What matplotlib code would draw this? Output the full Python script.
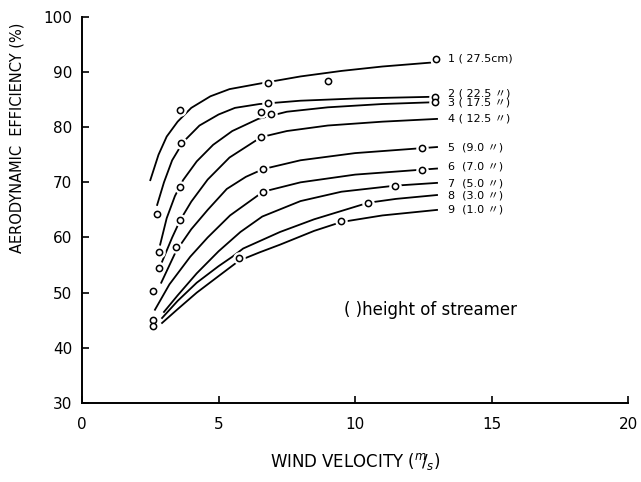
import numpy as np
import matplotlib
matplotlib.use("Agg")
import matplotlib.pyplot as plt

plt.rcParams['font.family'] = ['DejaVu Sans', 'Noto Sans CJK JP']

# curves: wind velocity (m/s), aerodynamic efficiency (%)
c1_x = [2.5, 2.8, 3.1, 3.5, 4.0, 4.7, 5.4, 6.5, 8.0, 9.5, 11.0, 12.75]
c1_y = [70.4, 75.0, 78.3, 81.0, 83.5, 85.6, 86.9, 87.9, 89.2, 90.2, 91.0, 91.7]
c2_x = [2.75, 3.0, 3.3, 3.7, 4.3, 5.0, 5.6, 6.5, 8.0, 10.0, 12.75]
c2_y = [65.9, 70.0, 74.0, 77.3, 80.3, 82.3, 83.5, 84.2, 84.8, 85.2, 85.5]
c3_x = [2.86, 3.1, 3.4, 3.7, 4.2, 4.8, 5.5, 6.45, 7.5, 9.0, 11.0, 12.75]
c3_y = [58.7, 63.5, 67.5, 70.4, 73.8, 76.8, 79.3, 81.5, 82.8, 83.6, 84.2, 84.5]
c4_x = [2.93, 3.3, 3.6, 4.0, 4.6, 5.4, 6.56, 7.5, 9.0, 11.0, 13.0]
c4_y = [55.6, 60.0, 63.2, 66.5, 70.5, 74.5, 78.2, 79.3, 80.3, 81.0, 81.5]
c5_x = [2.9, 3.44, 4.0, 4.6, 5.3, 6.0, 6.63, 8.0, 10.0, 12.45, 13.0]
c5_y = [51.8, 57.5, 61.5, 65.0, 68.8, 71.0, 72.4, 74.0, 75.3, 76.2, 76.4]
c6_x = [2.67, 3.2, 3.96, 4.6, 5.42, 6.63, 8.0, 10.0, 12.45, 13.0]
c6_y = [46.9, 51.5, 56.5, 60.0, 64.0, 68.3, 70.0, 71.4, 72.3, 72.5]
c7_x = [3.0, 3.5, 4.2, 5.0, 5.8, 6.6, 8.0, 9.5, 11.47, 13.0]
c7_y = [46.5, 49.5, 53.5, 57.5, 61.0, 63.8, 66.6, 68.3, 69.4, 69.9]
c8_x = [2.93, 3.5, 4.2, 5.0, 5.5, 5.9, 7.25, 8.5, 10.48, 11.5, 13.0]
c8_y = [45.4, 48.5, 51.8, 54.8, 56.5, 58.0, 61.0, 63.3, 66.3, 67.0, 67.7]
c9_x = [2.93, 3.5, 4.2, 5.0, 5.75, 6.5, 7.25, 8.5, 9.49, 11.0, 13.0]
c9_y = [44.5, 47.0, 50.0, 53.0, 55.8, 57.3, 58.7, 61.2, 62.8, 64.0, 65.0]

# measured points (circles)
pts_x = [3.59, 3.63, 3.59, 3.59, 3.44, 2.74, 2.8, 2.83, 2.6, 2.6, 2.6,
         5.75, 6.81, 9.01, 6.81, 6.56, 6.92, 6.56, 6.63, 6.63,
         12.45, 12.45, 11.47, 10.48, 9.49, 12.97, 12.93, 12.93]
pts_y = [83.1, 77.2, 69.2, 63.2, 58.3, 64.3, 57.4, 54.5, 50.3, 45.1, 43.9,
         56.3, 88.0, 88.4, 84.4, 82.8, 82.4, 78.2, 72.4, 68.3,
         76.2, 72.3, 69.4, 66.3, 63.0, 92.3, 85.5, 84.5]

labels = ['1 ( 27.5cm)', '2 ( 22.5 〃)', '3 ( 17.5 〃)', '4 ( 12.5 〃)',
          '5  (9.0 〃)', '6  (7.0 〃)', '7  (5.0 〃)', '8  (3.0 〃)', '9  (1.0 〃)']
label_y = [92.4, 86.1, 84.4, 81.5, 76.4, 72.9, 69.8, 67.6, 65.0]

fig = plt.figure(figsize=(6.41, 4.82), dpi=100)
ax = fig.add_axes([0.128, 0.164, 0.852, 0.801])

curves = [(c1_x, c1_y), (c2_x, c2_y), (c3_x, c3_y), (c4_x, c4_y), (c5_x, c5_y),
          (c6_x, c6_y), (c7_x, c7_y), (c8_x, c8_y), (c9_x, c9_y)]
for cx, cy in curves:
    ax.plot(cx, cy, color='black', lw=1.3, zorder=2)

# white halo leaves a small gap in the line round each circle
ax.plot(pts_x, pts_y, 'o', ms=8, color='white', zorder=3)
ax.plot(pts_x, pts_y, 'o', ms=4.5, mfc='white', mec='black', mew=1.1, zorder=4)

for lab, ly in zip(labels, label_y):
    ax.text(13.4, ly, lab, fontsize=8, va='center', ha='left')

ax.text(9.6, 46.9, '( )height of streamer', fontsize=12, va='center', ha='left')

ax.set_xlim(0, 20)
ax.set_ylim(30, 100)
ax.set_xticks([0, 5, 10, 15, 20])
ax.set_yticks([30, 40, 50, 60, 70, 80, 90, 100])
ax.tick_params(direction='in', length=5, width=1.2, labelsize=11, pad=7)
ax.tick_params(axis='x', pad=10)
for s in ['top', 'right']:
    ax.spines[s].set_visible(False)
for s in ['left', 'bottom']:
    ax.spines[s].set_linewidth(1.4)

ax.set_xlabel(r'WIND VELOCITY ($^{m}\!\!/_{s}$)', fontsize=12, labelpad=14)
fig.text(0.027, 0.714, 'AERODYNAMIC  EFFICIENCY (%)', rotation=90, fontsize=10.5,
         ha='center', va='center')

fig.savefig('out.png', dpi=100)
